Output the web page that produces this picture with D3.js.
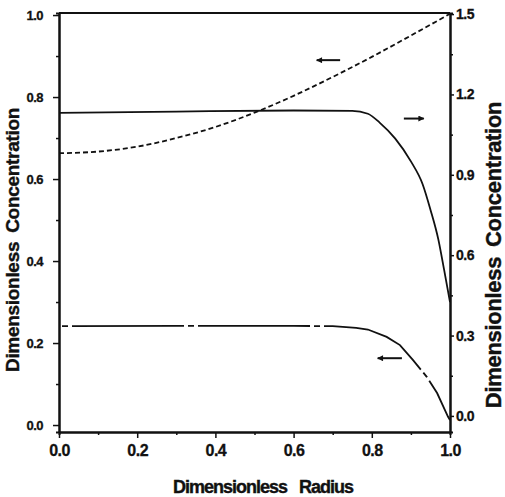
<!DOCTYPE html>
<html>
<head>
<meta charset="utf-8">
<script src="https://d3js.org/d3.v7.min.js"></script>
<style>
  body { margin: 0; background: #fff; }
  text { font-family: "Liberation Sans", Arial, sans-serif; font-weight: bold; fill: #111; }
</style>
</head>
<body>
<div id="graph"></div>
<script>

// curve values
var dashedX = [0, 0.1, 0.2, 0.3, 0.4, 0.5, 0.6, 0.7, 0.8, 0.9, 1.0]
var dashedY = [0.663, 0.667, 0.679, 0.700, 0.727, 0.762, 0.803, 0.849, 0.898, 0.950, 1.003]

var solidX = [0, 0.3, 0.6, 0.75, 0.79, 0.82, 0.86, 0.9, 0.93, 0.95, 0.97, 0.985, 1.0]
var solidY = [1.131, 1.136, 1.140, 1.139, 1.128, 1.095, 1.035, 0.950, 0.865, 0.770, 0.660, 0.545, 0.425]

var lowerX = [0, 0.3, 0.6, 0.7, 0.76, 0.79, 0.838, 0.872, 0.905, 0.941, 0.967, 0.995, 1.0]
var lowerY = [0.241, 0.242, 0.242, 0.241, 0.237, 0.233, 0.215, 0.195, 0.159, 0.117, 0.078, 0.020, 0.012]

// tick values
var xTicks = [0, 0.2, 0.4, 0.6, 0.8, 1.0]
var xMinor = [0.1, 0.3, 0.5, 0.7, 0.9]
var leftTicks = [0, 0.2, 0.4, 0.6, 0.8, 1.0]
var leftMinor = [0.1, 0.3, 0.5, 0.7, 0.9]
var rightTicks = [0, 0.3, 0.6, 0.9, 1.2, 1.5]
var rightMinor = [0.15, 0.45, 0.75, 1.05, 1.35]

var W = 505, H = 497
var plot = {left: 59, right: 450, top: 13, bottom: 432}

var svg = d3.select('#graph').append('svg')
    .attr('width', W).attr('height', H)

var x = d3.scaleLinear().domain([0, 1]).range([plot.left, plot.right])
var yL = d3.scaleLinear().domain([-0.017, 1.005]).range([plot.bottom, plot.top])
var yR = d3.scaleLinear().domain([-0.06, 1.504]).range([plot.bottom, plot.top])

var fmt = d3.format('.1f')

// top frame line
svg.append('line')
  .attr('x1', plot.left).attr('x2', plot.right)
  .attr('y1', plot.top).attr('y2', plot.top)
  .attr('stroke', '#111').attr('stroke-width', 2)

// minor ticks
svg.append('g').attr('transform', `translate(0, ${plot.bottom})`)
  .call(d3.axisBottom(x).tickValues(xMinor).tickSize(3).tickFormat(''))
svg.append('g').attr('transform', `translate(${plot.left}, 0)`)
  .call(d3.axisLeft(yL).tickValues(leftMinor).tickSize(3).tickFormat(''))
svg.append('g').attr('transform', `translate(${plot.right}, 0)`)
  .call(d3.axisRight(yR).tickValues(rightMinor).tickSize(3).tickFormat(''))

// major axes
var gx = svg.append('g').attr('transform', `translate(0, ${plot.bottom})`)
  .call(d3.axisBottom(x).tickValues(xTicks).tickSize(6).tickSizeOuter(0).tickPadding(7).tickFormat(fmt))
gx.selectAll('text').style('font-size', '16px').style('letter-spacing', '-0.5px')

var gl = svg.append('g').attr('transform', `translate(${plot.left}, 0)`)
  .call(d3.axisLeft(yL).tickValues(leftTicks).tickSize(6).tickSizeOuter(0).tickPadding(10).tickFormat(fmt))
gl.selectAll('text').style('font-size', '13px').style('letter-spacing', '-0.5px')

var gr = svg.append('g').attr('transform', `translate(${plot.right}, 0)`)
  .call(d3.axisRight(yR).tickValues(rightTicks).tickSize(4).tickSizeOuter(0).tickPadding(2).tickFormat(fmt))
gr.selectAll('text').style('font-size', '14px').style('letter-spacing', '-0.5px')

svg.selectAll('.domain').attr('stroke', '#111').attr('stroke-width', 2)
svg.selectAll('.tick line').attr('stroke', '#111').attr('stroke-width', 1.5)
svg.selectAll('.tick text').attr('stroke', '#111').attr('stroke-width', 0.3)

// curves
function pts(xs, ys) { return xs.map(function(v, i) { return [v, ys[i]] }) }

var lineL = d3.line().x(function(d) { return x(d[0]) }).y(function(d) { return yL(d[1]) })
var lineR = d3.line().x(function(d) { return x(d[0]) }).y(function(d) { return yR(d[1]) })

svg.append('path')
  .attr('d', lineL.curve(d3.curveMonotoneX)(pts(dashedX, dashedY)))
  .attr('fill', 'none').attr('stroke', '#111').attr('stroke-width', 1.8)
  .attr('stroke-dasharray', '5,3')

svg.append('path')
  .attr('d', lineR.curve(d3.curveMonotoneX)(pts(solidX, solidY)))
  .attr('fill', 'none').attr('stroke', '#111').attr('stroke-width', 1.8)

svg.append('path')
  .attr('d', lineL.curve(d3.curveLinear)(pts(lowerX, lowerY)))
  .attr('fill', 'none').attr('stroke', '#111').attr('stroke-width', 1.8)
  .attr('stroke-dasharray', '112,4,6,4').attr('stroke-dashoffset', 113)

// arrows showing which axis each curve belongs to
svg.append('defs').append('marker')
  .attr('id', 'head').attr('viewBox', '0 0 10 10')
  .attr('refX', 9).attr('refY', 5)
  .attr('markerWidth', 9).attr('markerHeight', 6)
  .attr('markerUnits', 'userSpaceOnUse')
  .attr('orient', 'auto')
  .append('path').attr('d', 'M0,0 L10,5 L0,10 Z').attr('fill', '#111')

var arrows = [
  {x1: 0.719, x2: 0.659, y: 0.89, axis: 'L'},
  {x1: 0.882, x2: 0.933, y: 1.11, axis: 'R'},
  {x1: 0.877, x2: 0.815, y: 0.163, axis: 'L'}
]
arrows.forEach(function(a) {
  var sy = a.axis == 'L' ? yL : yR
  svg.append('line')
    .attr('x1', x(a.x1)).attr('x2', x(a.x2))
    .attr('y1', sy(a.y)).attr('y2', sy(a.y))
    .attr('stroke', '#111').attr('stroke-width', 2)
    .attr('marker-end', 'url(#head)')
})

// axis titles
svg.append('text')
  .attr('x', 263).attr('y', 493)
  .attr('text-anchor', 'middle')
  .attr('stroke', '#111').attr('stroke-width', 0.4)
  .style('font-size', '18px').style('letter-spacing', '-1px').style('word-spacing', '8px')
  .text('Dimensionless Radius')

svg.append('text')
  .attr('transform', 'translate(19, 240) rotate(-90)')
  .attr('text-anchor', 'middle')
  .attr('stroke', '#111').attr('stroke-width', 0.4)
  .style('font-size', '19px').style('letter-spacing', '-0.3px').style('word-spacing', '4px')
  .text('Dimensionless Concentration')

svg.append('text')
  .attr('transform', 'translate(501, 255) rotate(-90)')
  .attr('text-anchor', 'middle')
  .attr('stroke', '#111').attr('stroke-width', 0.4)
  .style('font-size', '22px').style('letter-spacing', '-0.3px').style('word-spacing', '4px')
  .text('Dimensionless Concentration')

</script>
</body>
</html>
